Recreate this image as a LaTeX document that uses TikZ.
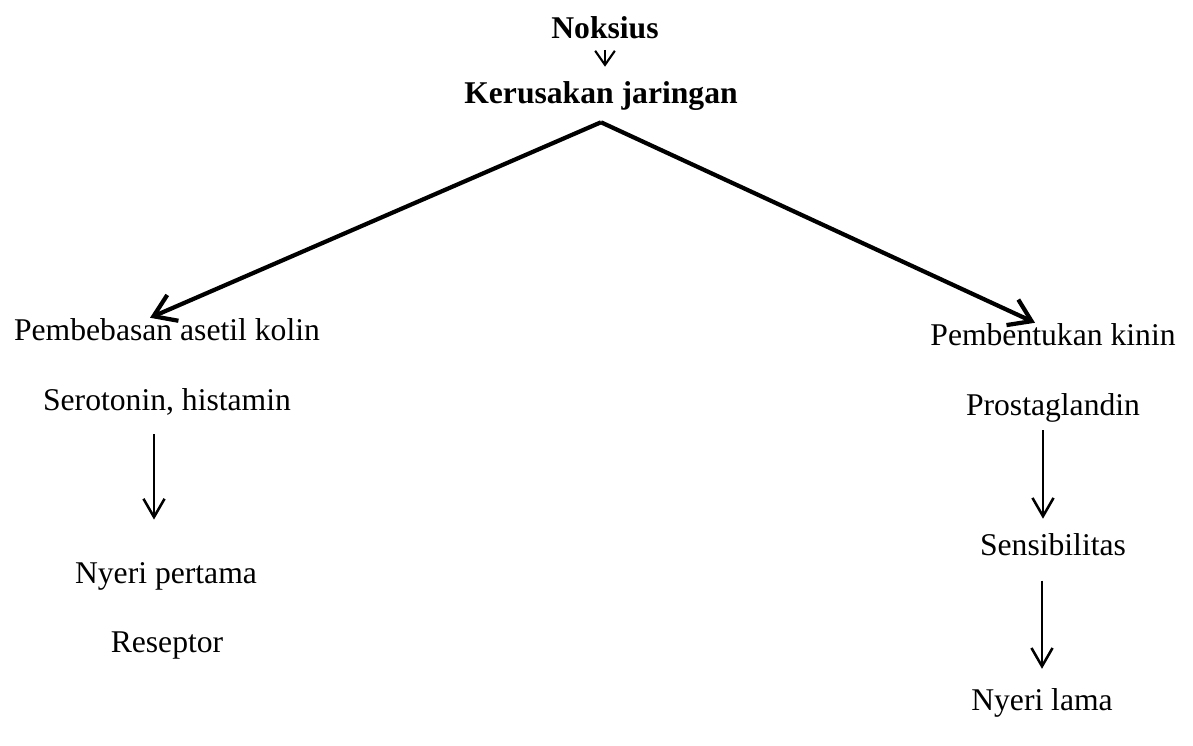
\documentclass[tikz,border=0pt]{standalone}
\usepackage{fontspec}
\setmainfont{Liberation Serif}
\usepackage{tikz}
\usetikzlibrary{arrows.meta,calc}

\begin{document}
\begin{tikzpicture}[x=0.025cm,y=-0.025cm,
    lbl/.style={anchor=base,inner sep=0pt,font=\fontsize{22.5}{27}\selectfont},
    blbl/.style={lbl,font=\fontsize{22.5}{27}\selectfont\bfseries},
    bigarr/.style={line width=3pt,-{Straight Barb[length=15pt,width=20pt]}},
    downarr/.style={line width=1.8pt,-{Straight Barb[length=13pt,width=15pt]}},
    smallarr/.style={line width=1.5pt,-{Straight Barb[length=10pt,width=14pt]}}]
  \useasboundingbox (0,0) rectangle (1193,745);
  % top
  \node[blbl] (NK) at (605,38) {Noksius};
  \node[blbl] (KJ) at (601,103) {Kerusakan jaringan};
  \draw[smallarr,shorten <=8pt,shorten >=10pt] (NK.south) -- (NK.south |- KJ.north);
  % left branch
  \node[lbl] (PA) at (167,340) {Pembebasan asetil kolin};
  \node[lbl] (SH) at (167,410) {Serotonin, histamin};
  \node[lbl] (NP) at (166,583) {Nyeri pertama};
  \node[lbl] (RS) at (167,652) {Reseptor};
  % right branch
  \node[lbl] (PK) at (1053,345) {Pembentukan kinin};
  \node[lbl] (PG) at (1053,415) {Prostaglandin};
  \node[lbl] (SB) at (1053,555) {Sensibilitas};
  \node[lbl] (NL) at (1042,710) {Nyeri lama};
  % branches
  \coordinate (AP) at ($(KJ.south)+(0,12)$);
  \draw[bigarr] (AP) -- ($(PA.north)+(-17,0)$);
  \draw[bigarr] (AP) -- ($(PK.north)+(-18,0)$);
  % down arrows
  \draw[downarr,shorten <=13.5pt,shorten >=30pt] ($(SH.south)+(-13,0)$) -- ($(NP.north)+(-12,0)$);
  \draw[downarr,shorten <=5.7pt,shorten >=10pt] ($(PG.south)+(-10,0)$) -- ($(SB.north)+(-10,0)$);
  \draw[downarr,shorten <=17.8pt,shorten >=13.5pt] ($(SB.south)+(-11,0)$) -- (NL.north);
\end{tikzpicture}
\end{document}
